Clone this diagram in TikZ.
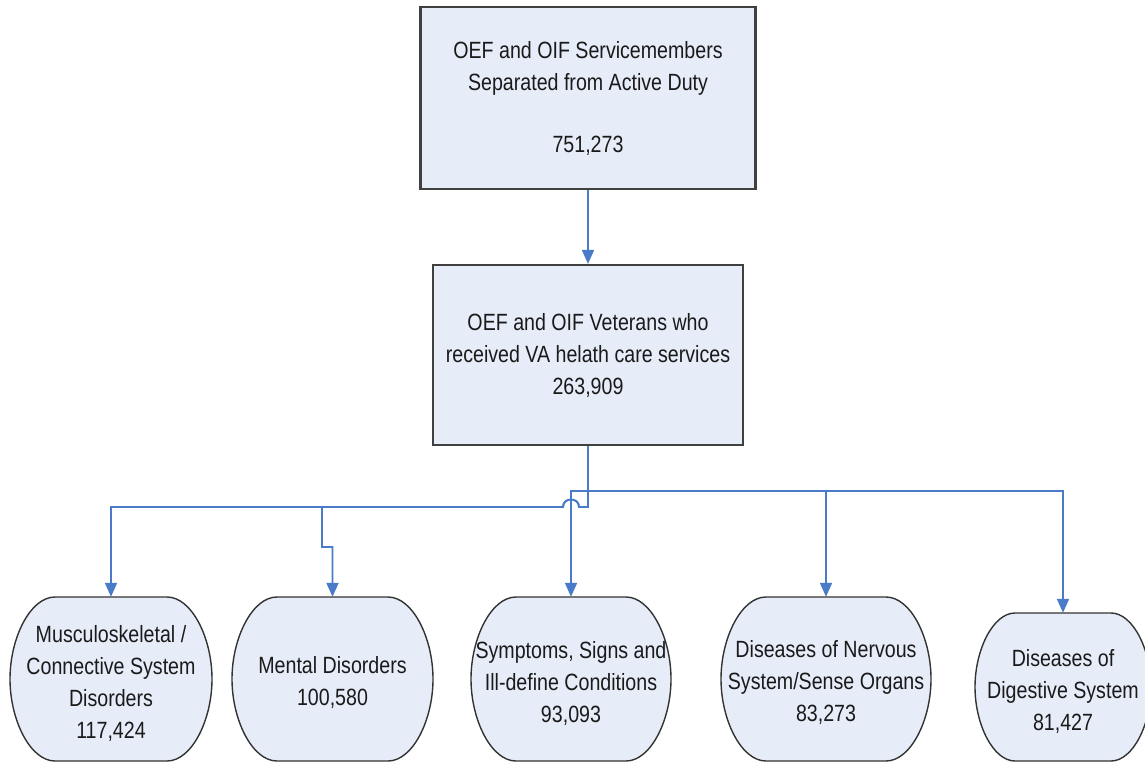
\documentclass[tikz,border=0pt]{standalone}
\usepackage{fontspec}
\setmainfont[FakeStretch=0.835]{Liberation Sans}
\usetikzlibrary{arrows.meta}
\definecolor{boxfill}{HTML}{E7EDF8}
\definecolor{conncol}{HTML}{4A7BC8}
\definecolor{textcol}{HTML}{1A1A1A}
% outline of a bottom shape: centre x, centre y, width, height, corner inset
\newcommand\drawblob[5]{%
  \filldraw[blobline] ({#1-#3/2+#5},{#2-#4/2}) -- ({#1+#3/2-#5},{#2-#4/2})
   .. controls ({#1+#3/2-0.45*#5},{#2-#4/2}) and ({#1+#3/2},{#2-0.5*#4/2}) .. ({#1+#3/2},{#2})
   .. controls ({#1+#3/2},{#2+0.5*#4/2}) and ({#1+#3/2-0.45*#5},{#2+#4/2}) .. ({#1+#3/2-#5},{#2+#4/2})
   -- ({#1-#3/2+#5},{#2+#4/2})
   .. controls ({#1-#3/2+0.45*#5},{#2+#4/2}) and ({#1-#3/2},{#2+0.5*#4/2}) .. ({#1-#3/2},{#2})
   .. controls ({#1-#3/2},{#2-0.5*#4/2}) and ({#1-#3/2+0.45*#5},{#2-#4/2}) .. cycle;}
\begin{document}
\begin{tikzpicture}[x=1pt,y=-1pt,
  every node/.style={font=\fontsize{23.5}{32}\selectfont},
  rectbox/.style={draw=black!75, line width=2.2pt, fill=boxfill, align=center, text=textcol, inner sep=0pt},
  blobline/.style={draw=black!80, line width=1.4pt, fill=boxfill},
  blobtext/.style={align=center, text=textcol, inner sep=0pt},
  conn/.style={draw=conncol, line width=1.8pt, -{Triangle[length=14pt,width=12pt]}}
]
\useasboundingbox[fill=white] (0,0) rectangle (1145,763);

\node[rectbox, minimum width=335, minimum height=182] (top) at (588,98)
  {OEF and OIF Servicemembers\\Separated from Active Duty\\[30pt]751,273};
\node[rectbox, minimum width=310, minimum height=180] (sec) at (588,355)
  {OEF and OIF Veterans who\\received VA helath care services\\263,909};

\drawblob{111}{679}{202}{164}{45}
\drawblob{332.5}{679}{201}{164}{45}
\drawblob{571}{679}{200}{164}{45}
\drawblob{826}{679}{210}{164}{45}
\drawblob{1063}{687}{176}{148}{40}

\node[blobtext, minimum width=202, minimum height=172] (musc) at (111,683)
  {Musculoskeletal /\\Connective System\\Disorders\\117,424};
\node[blobtext, minimum width=201, minimum height=170] (ment) at (332.5,682)
  {Mental Disorders\\100,580};
\node[blobtext, minimum width=200, minimum height=172] (symp) at (571,683)
  {Symptoms, Signs and\\Ill-define Conditions\\93,093};
\node[blobtext, minimum width=210, minimum height=170] (nerv) at (826,682)
  {Diseases of Nervous\\System/Sense Organs\\83,273};
\node[blobtext, minimum width=176, minimum height=156] (dig) at (1063,691)
  {Diseases of\\Digestive System\\81,427};

\coordinate (hopR) at (579,507);
\coordinate (hopL) at (563,507);
\coordinate (upper) at (588,491);
\coordinate (mbr) at (322,507);
\coordinate (mkink) at (322,547);

\draw[conn] (top.south) -- (sec.north);

\draw[conn] (sec.south) -- (sec.south |- hopR) -- (hopR)
  .. controls +(0,-10) and +(0,-10) .. (hopL) -- (hopL -| musc.north) -- (musc.north);
\draw[conn] (sec.south) -- (sec.south |- hopR) -- (hopR)
  .. controls +(0,-10) and +(0,-10) .. (hopL) -- (mbr) -- (mkink) -- (mkink -| ment.north) -- (ment.north);
\draw[conn] (sec.south) -- (upper) -- (upper -| symp.north) -- (symp.north);
\draw[conn] (sec.south) -- (upper) -- (upper -| nerv.north) -- (nerv.north);
\draw[conn] (sec.south) -- (upper) -- (upper -| dig.north) -- (dig.north);
\end{tikzpicture}
\end{document}
